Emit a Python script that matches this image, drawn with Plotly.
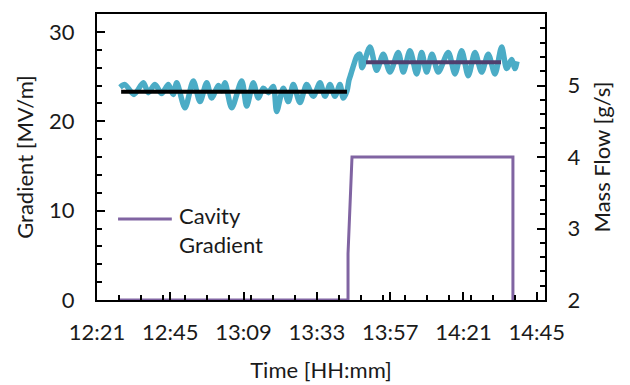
import pandas as pd
import plotly.graph_objects as go

# ---- data (time in minutes after 12:00) ----
grad_minutes = [28.53, 30.17, 33.11, 36.16, 37.80, 39.99, 42.18, 44.35, 45.98, 47.10,
                49.81, 52.53, 54.72, 56.92, 58.56, 60.72, 61.83, 62.91, 65.10, 68.38,
                70.02, 72.18, 73.81, 75.45, 77.09, 78.73, 79.84, 82.00, 83.64, 85.27,
                87.47, 89.66, 91.82, 94.01, 95.65, 97.29, 98.93, 100.56, 101.64, 102.86,
                103.51, 104.16, 105.15, 106.13, 107.11, 107.77, 110.39, 112.58, 114.74, 116.93,
                119.65, 121.29, 123.48, 125.68, 127.31, 128.95, 130.69, 132.75, 136.02, 138.22,
                140.41, 142.57, 144.76, 146.96, 149.12, 151.31, 153.51, 155.15, 156.78, 157.86,
                158.52]
grad_values = [23.8, 24.1, 23.0, 24.3, 23.2, 24.1, 23.1, 24.1, 23.0, 24.3,
               21.5, 24.5, 22.2, 24.3, 22.6, 24.0, 23.4, 24.3, 21.5, 24.5,
               21.7, 24.3, 22.6, 23.7, 23.2, 23.9, 21.1, 23.7, 22.2, 24.1,
               22.1, 24.1, 22.8, 24.3, 22.8, 24.1, 22.8, 24.1, 22.6, 23.4,
               24.6, 25.3, 26.4, 27.3, 27.5, 26.0, 28.3, 25.7, 27.5, 25.5,
               27.7, 25.5, 27.9, 25.3, 27.7, 25.5, 27.5, 25.5, 27.7, 25.3,
               27.9, 25.1, 27.7, 25.5, 27.5, 25.3, 28.3, 25.9, 26.9, 25.9,
               26.7]

avg1_minutes = [28.9, 102.85]
avg1_values = [23.3, 23.3]
avg2_minutes = [109.1, 153.3]
avg2_values = [26.6, 26.6]

flow_minutes = [28.2, 103.2, 103.2, 104.5, 157.2, 157.2]
flow_values = [2.0, 2.0, 2.65, 4.0, 4.0, 2.0]

legend_label = "Cavity<br>Gradient"

base = pd.Timestamp("2000-01-01 12:00")
def to_time(mins):
    return [base + pd.to_timedelta(m, unit="min") for m in mins]

CYAN = "#4bacc6"
PURPLE = "#8064a2"
DARKPURPLE = "#4f3f6e"
TXT = "#1a1a1a"
FONT = "Lato"
FS = 22

fig = go.Figure()
fig.add_trace(go.Scatter(x=to_time(grad_minutes), y=grad_values, mode="lines",
                         line=dict(color=CYAN, width=5.5, shape="spline", smoothing=0.8),
                         showlegend=False, name="Gradient"))
fig.add_trace(go.Scatter(x=to_time(avg1_minutes), y=avg1_values, mode="lines",
                         line=dict(color="black", width=4), showlegend=False))
fig.add_trace(go.Scatter(x=to_time(avg2_minutes), y=avg2_values, mode="lines",
                         line=dict(color=DARKPURPLE, width=4), showlegend=False))
fig.add_trace(go.Scatter(x=to_time(flow_minutes), y=flow_values, mode="lines", yaxis="y2",
                         line=dict(color=PURPLE, width=3), showlegend=False,
                         name="Cavity Gradient"))

tickfont = dict(family=FONT, size=FS, color=TXT)
titlefont = dict(family=FONT, size=FS, color=TXT)
fig.update_layout(
    width=630, height=385,
    margin=dict(l=97, r=85, t=14, b=85, autoexpand=False),
    paper_bgcolor="white", plot_bgcolor="white",
    showlegend=False,
    font=dict(family=FONT, size=FS, color=TXT),
    xaxis=dict(
        type="date", automargin=True,
        range=[base + pd.Timedelta(minutes=21), base + pd.Timedelta(minutes=167.7)],
        tickformat="%H:%M", tick0=base + pd.Timedelta(minutes=21), dtick=24 * 60 * 1000,
        ticks="inside", ticklen=8, tickwidth=1.5, tickcolor="black",
        minor=dict(ticks="inside", ticklen=5, tickwidth=1.5, tickcolor="black",
                   tick0=base + pd.Timedelta(minutes=21), dtick=7.2 * 60 * 1000),
        showline=True, linecolor="black", linewidth=2, mirror=True,
        showgrid=False, zeroline=False,
        tickfont=tickfont, ticklabelstandoff=12,
        title=dict(text="Time [HH:mm]", font=titlefont, standoff=18),
    ),
    yaxis=dict(
        automargin=True,
        range=[0, 32], tick0=0, dtick=10,
        ticks="inside", ticklen=8, tickwidth=1.5, tickcolor="black",
        minor=dict(ticks="inside", ticklen=5, tickwidth=1.5, tickcolor="black", dtick=2),
        showline=True, linecolor="black", linewidth=2,
        showgrid=False, zeroline=False,
        tickfont=tickfont, ticklabelstandoff=16,
        title=dict(text="Gradient [MV/m]", font=titlefont, standoff=9),
    ),
    yaxis2=dict(
        automargin=False,
        overlaying="y", side="right",
        range=[2, 6], tick0=2, dtick=1,
        ticks="inside", ticklen=8, tickwidth=1.5, tickcolor="black",
        minor=dict(ticks="inside", ticklen=5, tickwidth=1.5, tickcolor="black", dtick=0.2),
        showline=True, linecolor="black", linewidth=2,
        showgrid=False, zeroline=False,
        tickfont=tickfont, ticklabelstandoff=16,
        title=dict(text="Mass Flow [g/s]", font=titlefont),
    ),
)

# legend sample drawn manually
fig.add_shape(type="line", xref="paper", yref="paper", x0=0.047, x1=0.167, y0=0.283, y1=0.283,
              line=dict(color=PURPLE, width=3))
fig.add_annotation(xref="paper", yref="paper", x=0.178, y=0.35, xanchor="left", yanchor="top",
                   text=legend_label, showarrow=False, align="left",
                   font=dict(family=FONT, size=FS, color=TXT))

fig.write_html("out.html", config={"displayModeBar": False},
               post_script="document.body.style.margin='0';document.body.style.padding='0';")
